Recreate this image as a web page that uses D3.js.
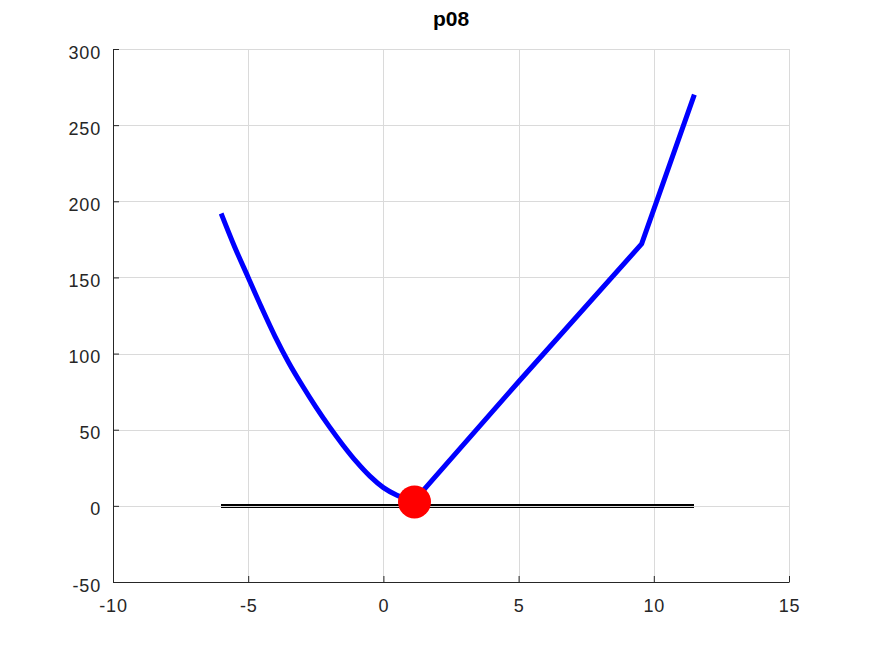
<!DOCTYPE html>
<html>
<head>
<meta charset="utf-8">
<script src="https://cdn.jsdelivr.net/npm/d3@7"></script>
<style>
    body { margin: 0; background: #fff; }
    text { font-family: "Liberation Sans", Arial, sans-serif; fill: #262626; }
</style>
</head>
<body>
<div id="chart"></div>
<script>
var title = 'p08';

// values
var curveX = [-6, -5.5, -5, -4.5, -4, -3.5, -3, -2.5, -2, -1.5, -1, -0.5, 0, 0.5, 1.15, 1.54, 5, 9.55, 11.5];
var curveY = [192, 170, 150, 130, 111, 94, 79, 65, 52, 40, 29, 19.5, 12, 7, 3, 11.5, 81.5, 172, 270];

var refLineX = [-6, 11.5];
var refLineY = [0.6, -1.05];

var pointX = [1.15];
var pointY = [2.6];

var xTicks = [-10, -5, 0, 5, 10, 15];
var yTicks = [-50, 0, 50, 100, 150, 200, 250, 300];

var width = 872;
var height = 654;
var margin = {top: 49, right: 83, bottom: 72, left: 113};
var plotW = width - margin.left - margin.right;
var plotH = height - margin.top - margin.bottom;

var svg = d3.select('#chart').append('svg')
    .attr('width', width)
    .attr('height', height);

var x = d3.scaleLinear().domain([-10, 15]).range([0, plotW]);
var y = d3.scaleLinear().domain([-50, 300]).range([plotH, 0]);

var g = svg.append('g')
    .attr('transform', 'translate(' + margin.left + ',' + margin.top + ')');

/**
 * Grid lines at every tick, light grey.
 */
g.append('g')
        .attr('class', 'grid x')
    .selectAll('line')
        .data(xTicks)
    .enter().append('line')
        .attr('x1', function (d) { return Math.round(x(d)) + 0.5; })
        .attr('x2', function (d) { return Math.round(x(d)) + 0.5; })
        .attr('y1', 0)
        .attr('y2', plotH)
        .style('stroke', '#dadada')
        .style('stroke-width', 1);

g.append('g')
        .attr('class', 'grid y')
    .selectAll('line')
        .data(yTicks)
    .enter().append('line')
        .attr('x1', 0)
        .attr('x2', plotW)
        .attr('y1', function (d) { return Math.round(y(d)) + 0.5; })
        .attr('y2', function (d) { return Math.round(y(d)) + 0.5; })
        .style('stroke', '#dadada')
        .style('stroke-width', 1);

// axes: only left and bottom, ticks pointing inward, plain hyphen minus
var fmt = function (d) { return String(d); };
var xAxis = d3.axisBottom(x).tickValues(xTicks).tickFormat(fmt)
    .tickSizeInner(-6).tickSizeOuter(0).tickPadding(12);
var yAxis = d3.axisLeft(y).tickValues(yTicks).tickFormat(fmt)
    .tickSizeInner(-6).tickSizeOuter(0).tickPadding(12);

var gx = g.append('g')
    .attr('transform', 'translate(0,' + plotH + ')')
    .call(xAxis);

var gy = g.append('g')
    .call(yAxis);

[gx, gy].forEach(function (ax) {
    ax.select('.domain').style('stroke', '#262626');
    ax.selectAll('.tick line').style('stroke', '#262626');
    ax.selectAll('.tick text')
        .style('font-family', '"Liberation Sans", Arial, sans-serif')
        .style('font-size', '18px')
        .style('letter-spacing', '0.8px')
        .style('fill', '#262626');
});
gx.selectAll('.tick text').attr('dy', '1em');
gy.selectAll('.tick text').attr('dy', '0.5em');

// horizontal reference lines
g.append('g')
        .attr('class', 'ref')
    .selectAll('line')
        .data(refLineY)
    .enter().append('line')
        .attr('x1', x(refLineX[0]))
        .attr('x2', x(refLineX[1]))
        .attr('y1', function (d) { return y(d); })
        .attr('y2', function (d) { return y(d); })
        .style('stroke', '#000')
        .style('stroke-width', function (d, i) { return i === 0 ? 2 : 1; })
        .style('shape-rendering', 'crispEdges');

// the blue curve: smooth bowl on the left, straight pieces on the right
var pts = d3.zip(curveX, curveY);
var split = curveX.indexOf(pointX[0]);

var smooth = d3.line()
    .curve(d3.curveMonotoneX)
    .x(function (d) { return x(d[0]); })
    .y(function (d) { return y(d[1]); });

var straight = d3.line()
    .x(function (d) { return x(d[0]); })
    .y(function (d) { return y(d[1]); });

[[smooth, pts.slice(0, split + 1)], [straight, pts.slice(split)]].forEach(function (part) {
    g.append('path')
        .datum(part[1])
        .attr('d', part[0])
        .style('fill', 'none')
        .style('stroke', '#0000ff')
        .style('stroke-width', 5)
        .style('stroke-linejoin', 'round');
});

// red marker
g.append('g')
    .selectAll('circle')
        .data(d3.zip(pointX, pointY))
    .enter().append('circle')
        .attr('cx', function (d) { return x(d[0]); })
        .attr('cy', function (d) { return y(d[1]); })
        .attr('r', 16.5)
        .style('fill', '#ff0000');

svg.append('text')
    .attr('x', margin.left + plotW / 2)
    .attr('y', 26)
    .attr('text-anchor', 'middle')
    .style('font-size', '21px')
    .style('font-weight', 'bold')
    .style('fill', '#000')
    .text(title);
</script>
</body>
</html>
